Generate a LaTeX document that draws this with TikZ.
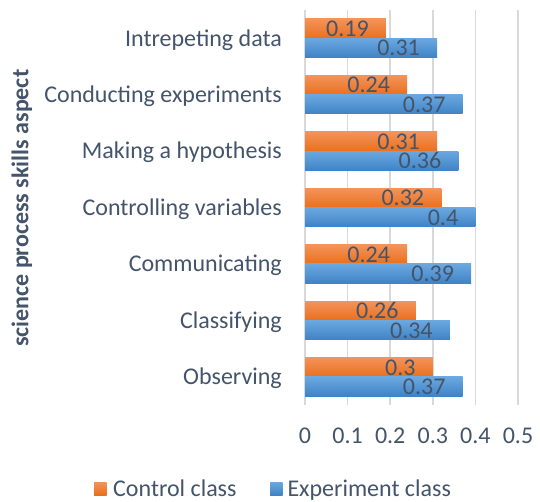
\documentclass[tikz,border=0pt]{standalone}
\usepackage{fontspec}
\setmainfont{Carlito}
\definecolor{txt}{HTML}{44546A}
\definecolor{gridc}{HTML}{D9D9D9}
\definecolor{orTop}{HTML}{F4935A}
\definecolor{orBot}{HTML}{E8701E}
\definecolor{blTop}{HTML}{6BA8E0}
\definecolor{blBot}{HTML}{3F83C6}
\begin{document}
\begin{tikzpicture}[x=1pt,y=-1pt,
  gridline/.style={draw=gridc, line width=1.6pt},
  lbl/.style={text=txt, inner sep=0pt, font=\fontsize{24}{28}\selectfont},
  cat/.style={lbl, anchor=base east},
  val/.style={lbl, anchor=base east},
  tick/.style={lbl, anchor=base},
  orbar/.style={top color=orTop, bottom color=orBot},
  blbar/.style={top color=blTop, bottom color=blBot}]
\useasboundingbox (0,0) rectangle (540,502);
% grid
\foreach \i in {0,...,5}{
  \draw[gridline] (305+42.6*\i,10) -- (305+42.6*\i,405);
  \pgfmathsetmacro\tv{\i/10}
  \node[tick] (tick\i) at (305+42.6*\i,443.5) {\ifnum\i=0 0\else 0.\i\fi};
}
% bars
\foreach \k/\lab/\c/\e in {0/Intrepeting data/0.19/0.31,
  1/Conducting experiments/0.24/0.37,
  2/Making a hypothesis/0.31/0.36,
  3/Controlling variables/0.32/0.4,
  4/Communicating/0.24/0.39,
  5/Classifying/0.26/0.34,
  6/Observing/0.3/0.37}{
  \pgfmathsetmacro\yc{10+56.43*(\k+0.5)}
  \shade[orbar] (305,\yc-19.3) rectangle (305+426*\c,\yc);
  \shade[blbar] (305,\yc) rectangle (305+426*\e,\yc+19.3);
  \node[cat] (cat\k) at (282,\yc+7.8) {\lab};
  \node[val] (ctl\k) at (305+426*\c-17,\yc-9.65+8) {\c};
  \node[val] (exp\k) at (305+426*\e-17,\yc+9.65+8) {\e};
}
% axis title
\node[text=txt, inner sep=0pt, font=\fontsize{24}{28}\selectfont\bfseries, rotate=90, anchor=base] (ytitle) at (28.3,208.3) {science process skills aspect};
% legend
\shade[orbar] (94,482) rectangle (106.7,495);
\node[lbl, anchor=base west] (legctl) at (113,496) {Control class};
\shade[blbar] (270,482) rectangle (282.7,495);
\node[lbl, anchor=base west] (legexp) at (287.3,496) {Experiment class};
\end{tikzpicture}
\end{document}
